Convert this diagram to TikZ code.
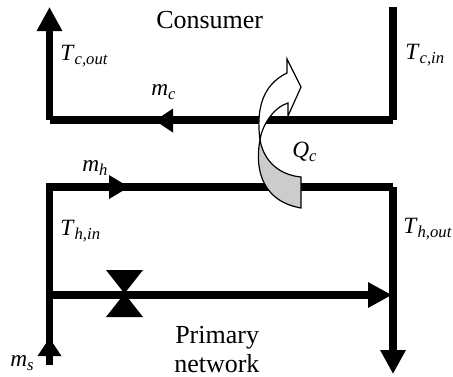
\documentclass[tikz,border=0pt]{standalone}
\usepackage{fontspec}
\setmainfont{Liberation Serif}
\usetikzlibrary{arrows.meta}
\newcommand{\lab}[2]{\textit{#1}\raisebox{-0.2em}{\fontsize{12.5}{14}\selectfont\textit{#2}}}
\tikzset{
  pipe/.style={line width=5.6pt,line cap=butt,line join=miter},
  flow/.style={pipe,-{Triangle[length=18pt,width=18pt]}},
  head/.style={fill=black,draw=none},
  label/.style={inner sep=0pt,anchor=base west,font=\fontsize{17.5}{20}\selectfont},
  plain/.style={inner sep=0pt,anchor=base west,font=\fontsize{19.5}{22}\selectfont},
  heatw/.style={draw=black,line width=0.9pt,fill=white,line join=miter},
  heatg/.style={draw=black,line width=0.9pt,fill=black!20,line join=miter}
}
\begin{document}
\begin{tikzpicture}[x=0.75pt,y=-0.75pt]
\useasboundingbox (0,0) rectangle (453,376);
% named points of the pipework
\coordinate (ctl) at (49.5,120);
\coordinate (ctop) at (49.5,7);
\coordinate (ctr) at (393,120);
\coordinate (crtop) at (393,7);
\coordinate (htl) at (49.5,187);
\coordinate (htr) at (393,187);
\coordinate (hbot) at (393,374);
\coordinate (sbot) at (49.5,365);
\coordinate (bl) at (49.5,295);
\coordinate (br) at (392,295);
% consumer loop
\draw[pipe] (crtop) -- (ctr);
\draw[pipe] (ctr) -- (ctl);
\draw[flow] (ctl) -- (ctop);
\fill[head] (173,108.5) -- (155,120.5) -- (173,132.5) -- cycle;
% primary loop
\draw[pipe] (sbot) -- (htl) -- (htr);
\draw[flow] (htr) -- (hbot);
\draw[flow] (bl) -- (br);
\fill[head] (37.5,356) -- (49.5,338) -- (61.5,356) -- cycle;
\fill[head] (109,175) -- (129,187) -- (109,199) -- cycle;
% valve
\fill[head] (106,270) -- (143,270) -- (106,317) -- (143,317) -- cycle;
% heat arrow
\draw[heatg] (260,140) .. controls (256,160) and (256,200) .. (301,208) -- (301,177)
  .. controls (280,175) and (264,162) .. (260,140) -- cycle;
\draw[heatw] (260,140) .. controls (256,110) and (262,85) .. (287,73) -- (287,59) -- (301,87) -- (288,116) -- (288,103)
  .. controls (274,107) and (262,125) .. (260,140) -- cycle;
% labels
\node[plain] (consumer) at (156,28) {Consumer};
\node[plain] (primary) at (175,343) {Primary};
\node[plain] (network) at (174,372) {network};
\node[label] (tcout) at (60,60) {\lab{T}{c,out}};
\node[label] (tcin) at (405,59) {\lab{T}{c,in}};
\node[label] (mc) at (151,95) {\lab{m}{c}};
\node[label] (qc) at (292,157) {\lab{Q}{c}};
\node[label] (mh) at (82,171) {\lab{m}{h}};
\node[label] (thin) at (60,235) {\lab{T}{h,in}};
\node[label] (thout) at (403,233) {\lab{T}{h,out}};
\node[label] (ms) at (10,366) {\lab{m}{s}};
\end{tikzpicture}
\end{document}
